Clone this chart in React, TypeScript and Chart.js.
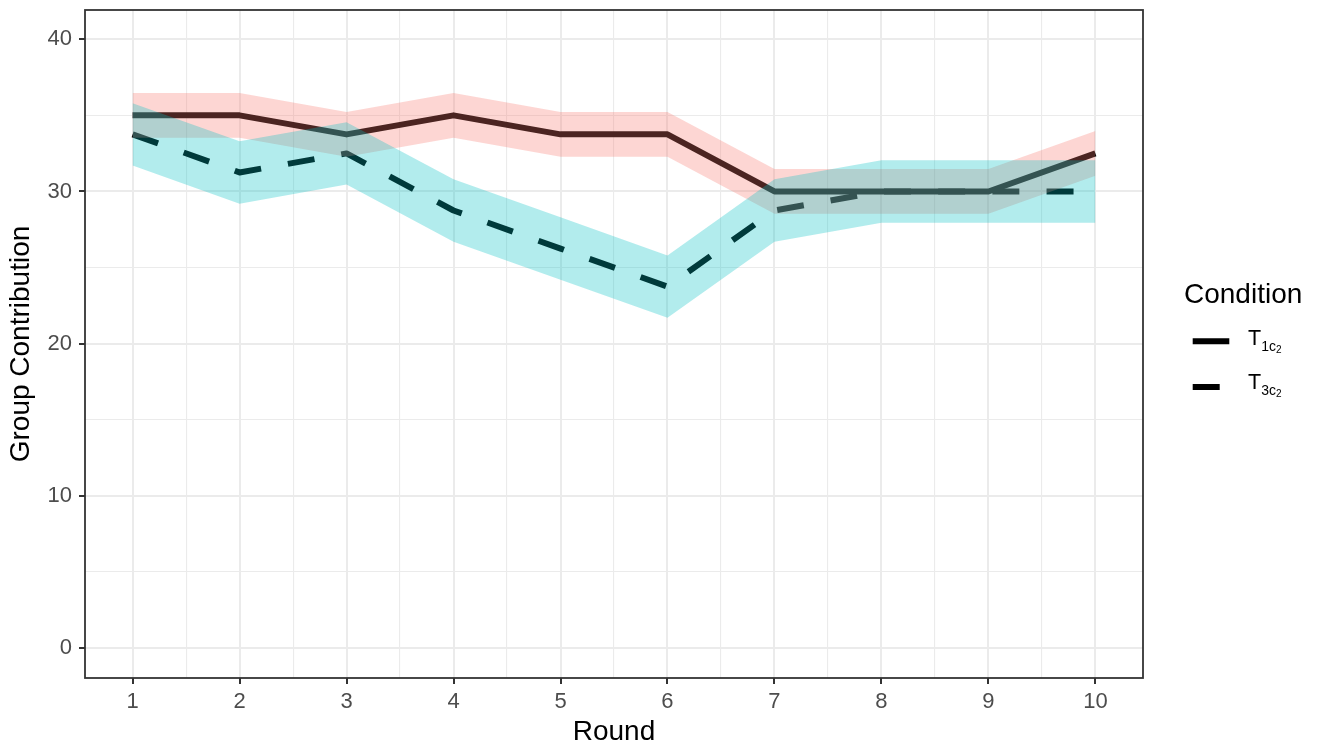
import React, { useEffect, useRef } from "react";
import { Chart, registerables } from "chart.js";

Chart.register(...registerables);

const FONT = '"Liberation Sans", Arial, Helvetica, sans-serif';

// ---------- data ----------
const rounds = [1, 2, 3, 4, 5, 6, 7, 8, 9, 10];

const t1Mean = [35, 35, 33.75, 35, 33.75, 33.75, 30, 30, 30, 32.5];
const t1Lower = [33.53, 33.53, 32.28, 33.53, 32.28, 32.28, 28.53, 28.53, 28.53, 31.03];
const t1Upper = [36.47, 36.47, 35.22, 36.47, 35.22, 35.22, 31.47, 31.47, 31.47, 33.97];

const t3Mean = [33.75, 31.25, 32.5, 28.75, 26.25, 23.75, 28.75, 30, 30, 30];
const t3Lower = [31.7, 29.2, 30.45, 26.7, 24.2, 21.7, 26.7, 27.95, 27.95, 27.95];
const t3Upper = [35.8, 33.3, 34.55, 30.8, 28.3, 25.8, 30.8, 32.05, 32.05, 32.05];

const xTickValues = [1, 1.5, 2, 2.5, 3, 3.5, 4, 4.5, 5, 5.5, 6, 6.5, 7, 7.5, 8, 8.5, 9, 9.5, 10];
const yTickValues = [0, 5, 10, 15, 20, 25, 30, 35, 40];

const legendTitle = "Condition";
const legendMain = ["T", "T"];
const legendSub = ["1c", "3c"];
const legendSubSub = ["2", "2"];

const xTitle = "Round";
const yTitle = "Group Contribution";

// ---------- helpers ----------
const pts = (ys: number[]) => rounds.map((r, i) => ({ x: r, y: ys[i] }));
const isMajorX = (v: number) => Number.isInteger(v);
const isMajorY = (v: number) => v % 10 === 0;

const PINK = "rgba(248,118,109,0.3)";
const CYAN = "rgba(0,191,196,0.3)";
const CLEAR = "rgba(0,0,0,0)";
const DASH = [27, 27.2];

const panelPlugin = {
  id: "panelAndKeys",
  afterDraw(chart: any) {
    const { ctx, chartArea } = chart;
    ctx.save();
    ctx.strokeStyle = "#333333";
    ctx.lineWidth = 1.8;
    ctx.setLineDash([]);
    ctx.strokeRect(
      chartArea.left,
      chartArea.top,
      chartArea.right - chartArea.left,
      chartArea.bottom - chartArea.top
    );
    // legend keys
    ctx.strokeStyle = "#000000";
    ctx.lineWidth = 6;
    ctx.lineCap = "butt";
    ctx.beginPath();
    ctx.moveTo(1192.7, 341.2);
    ctx.lineTo(1229.3, 341.2);
    ctx.stroke();
    ctx.setLineDash(DASH);
    ctx.beginPath();
    ctx.moveTo(1192.7, 387);
    ctx.lineTo(1229.3, 387);
    ctx.stroke();
    ctx.restore();
  },
};

export default function App() {
  const ref = useRef<HTMLCanvasElement>(null);

  useEffect(() => {
    document.body.style.margin = "0";
    const canvas = ref.current!;
    const lineCommon = {
      borderColor: "#000000",
      borderWidth: 6,
      pointRadius: 0,
      pointHoverRadius: 0,
      fill: false,
      tension: 0,
      borderJoinStyle: "round" as const,
      borderCapStyle: "butt" as const,
      order: 10,
    };
    const bandCommon = {
      borderColor: CLEAR,
      borderWidth: 0,
      pointRadius: 0,
      pointHoverRadius: 0,
      tension: 0,
    };
    const chart = new Chart(canvas, {
      type: "line",
      data: {
        datasets: [
          { ...lineCommon, label: "T1 mean", data: pts(t1Mean) },
          { ...lineCommon, label: "T3 mean", data: pts(t3Mean), borderDash: DASH },
          { ...bandCommon, label: "T1 upper", data: pts(t1Upper), fill: 3, backgroundColor: PINK, order: 3 },
          { ...bandCommon, label: "T1 lower", data: pts(t1Lower), fill: false, order: 3 },
          { ...bandCommon, label: "T3 upper", data: pts(t3Upper), fill: 5, backgroundColor: CYAN, order: 2 },
          { ...bandCommon, label: "T3 lower", data: pts(t3Lower), fill: false, order: 2 },
        ] as any,
      },
      options: {
        responsive: false,
        maintainAspectRatio: false,
        devicePixelRatio: 1,
        animation: false,
        events: [],
        layout: { padding: { left: 0, right: 184, top: 10, bottom: 0 } },
        plugins: {
          legend: { display: false },
          tooltip: { enabled: false },
        },
        scales: {
          x: {
            type: "linear",
            min: 0.555,
            max: 10.445,
            afterBuildTicks: (s: any) => {
              s.ticks = xTickValues.map((v) => ({ value: v }));
            },
            afterFit: (s: any) => {
              s.height = 69;
            },
            ticks: {
              autoSkip: false,
              maxRotation: 0,
              minRotation: 0,
              padding: 5,
              color: "#4D4D4D",
              font: { family: FONT, size: 22 },
              callback: (v: any) => (isMajorX(Number(v)) ? String(v) : ""),
            },
            grid: {
              color: "#EBEBEB",
              lineWidth: (c: any) => (c.tick && isMajorX(c.tick.value) ? 2 : 1.1),
              drawTicks: true,
              tickLength: 6,
              tickWidth: 2,
              tickColor: (c: any) => (c.tick && isMajorX(c.tick.value) ? "#333333" : CLEAR),
            },
            border: { display: false },
            title: {
              display: true,
              text: xTitle,
              color: "#000000",
              font: { family: FONT, size: 28, lineHeight: 1 },
              padding: { top: 0, bottom: 0.3 },
            },
          },
          y: {
            type: "linear",
            min: -1.96,
            max: 41.92,
            afterBuildTicks: (s: any) => {
              s.ticks = yTickValues.map((v) => ({ value: v }));
            },
            afterFit: (s: any) => {
              s.width = 85;
              s.paddingTop = 0;
              s.paddingBottom = 0;
            },
            ticks: {
              autoSkip: false,
              padding: 7,
              color: "#4D4D4D",
              font: { family: FONT, size: 22, lineHeight: 0.5 },
              callback: (v: any) => (isMajorY(Number(v)) ? String(v) : ""),
            },
            grid: {
              color: "#EBEBEB",
              lineWidth: (c: any) => (c.tick && isMajorY(c.tick.value) ? 2 : 1.1),
              drawTicks: true,
              tickLength: 6,
              tickWidth: 2,
              tickColor: (c: any) => (c.tick && isMajorY(c.tick.value) ? "#333333" : CLEAR),
            },
            border: { display: false },
            title: {
              display: true,
              text: yTitle,
              color: "#000000",
              font: { family: FONT, size: 28, lineHeight: 1 },
              padding: { top: 7.7, bottom: 0 },
            },
          },
        },
      } as any,
      plugins: [panelPlugin],
    });
    return () => chart.destroy();
  }, []);

  const labelTops = [328.4, 372.4];

  return (
    <div style={{ position: "relative", width: 1327, height: 747, fontFamily: FONT }}>
      <canvas
        ref={ref}
        width={1327}
        height={747}
        style={{ display: "block", width: 1327, height: 747 }}
      />
      <div
        style={{
          position: "absolute",
          left: 1184,
          top: 279.6,
          fontSize: 28,
          lineHeight: 1,
          color: "#000",
          whiteSpace: "nowrap",
        }}
      >
        {legendTitle}
      </div>
      {legendMain.map((m, i) => (
        <div
          key={i}
          style={{
            position: "absolute",
            left: 1248,
            top: labelTops[i],
            fontSize: 21.5,
            lineHeight: 1,
            color: "#000",
            whiteSpace: "nowrap",
          }}
        >
          {m}
          <span style={{ fontSize: 14, position: "relative", top: 5.5 }}>
            {legendSub[i]}
            <span style={{ fontSize: 10, position: "relative", top: 2.5 }}>{legendSubSub[i]}</span>
          </span>
        </div>
      ))}
    </div>
  );
}
